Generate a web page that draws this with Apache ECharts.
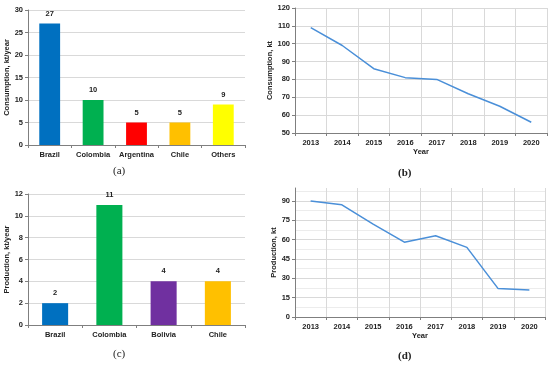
<!DOCTYPE html>
<html>
<head>
<meta charset="utf-8">
<script src="https://cdn.jsdelivr.net/npm/echarts@6/dist/echarts.min.js"></script>
<style>html,body{margin:0;padding:0;background:#fff}#c{width:550px;height:366px}</style>
</head>
<body>
<div id="c"></div>
<script>
var consCountries = ['Brazil', 'Colombia', 'Argentina', 'Chile', 'Others'];
var consValues = [27, 10, 5, 5, 9];
var consColors = ['#0070c0', '#00b050', '#ff0000', '#ffc000', '#ffff00'];
var years = ['2013', '2014', '2015', '2016', '2017', '2018', '2019', '2020'];
var consYear = [109, 99, 86, 81, 80, 72, 65, 56];
var prodCountries = ['Brazil', 'Colombia', 'Bolivia', 'Chile'];
var prodValues = [2, 11, 4, 4];
var prodColors = ['#0070c0', '#00b050', '#7030a0', '#ffc000'];
var prodYear = [90, 87, 72, 58, 63, 54, 22, 21];

var FONT = 'Liberation Sans';
var axisCol = '#7f7f7f';
var gridCol = '#d9d9d9';
var lab = {fontFamily: FONT, fontWeight: 'bold', fontSize: 7.5, color: '#222'};
function yAx(gi, min, max, interval, name, gap, extra) {
  var o = {
    type: 'value', gridIndex: gi, min: min, max: max, interval: interval,
    name: name, nameLocation: 'middle', nameGap: gap,
    nameTextStyle: {fontFamily: FONT, fontWeight: 'bold', fontSize: 7.5, color: '#222'},
    axisLine: {show: true, lineStyle: {color: axisCol, width: 1}},
    axisTick: {show: true, length: 3, lineStyle: {color: axisCol}},
    axisLabel: Object.assign({margin: 5}, lab),
    splitLine: {show: true, lineStyle: {color: gridCol, width: 1}}
  };
  return Object.assign(o, extra || {});
}
function xCat(gi, data, vgrid, name) {
  return {
    type: 'category', gridIndex: gi, data: data,
    name: name || '', nameLocation: 'middle', nameGap: 15,
    nameTextStyle: {fontFamily: FONT, fontWeight: 'bold', fontSize: 7.5, color: '#222'},
    axisLine: {show: true, lineStyle: {color: axisCol, width: 1}},
    axisTick: {show: true, length: 3, lineStyle: {color: axisCol}},
    axisLabel: Object.assign({margin: 6, interval: 0}, lab),
    splitLine: {show: !!vgrid, interval: 0, lineStyle: {color: gridCol, width: 1}}
  };
}
function barData(vals, cols) {
  return vals.map(function (v, i) { return {value: v, itemStyle: {color: cols[i]}}; });
}
var cap = {fontFamily: 'Liberation Serif', fontSize: 11, fill: '#222'};
var chart = echarts.init(document.getElementById('c'), null, {renderer: 'canvas'});
chart.setOption({
  animation: false,
  backgroundColor: '#fff',
  grid: [
    {left: 28, right: 305, top: 10, bottom: 221},
    {left: 295, right: 3, top: 8, bottom: 233},
    {left: 28, right: 305, top: 194, bottom: 41},
    {left: 295, right: 5, top: 188, bottom: 49}
  ],
  xAxis: [
    xCat(0, consCountries, false),
    xCat(1, years, true, 'Year'),
    xCat(2, prodCountries, false),
    xCat(3, years, true, 'Year')
  ],
  yAxis: [
    yAx(0, 0, 30, 5, 'Consumption, kt/year', 15),
    yAx(1, 50, 120, 10, 'Consumption, kt', 17),
    yAx(2, 0, 12, 2, 'Production, kt/year', 15),
    yAx(3, 0, 100, 15, 'Production, kt', 17, {
      axisLabel: Object.assign({margin: 5, showMaxLabel: false}, lab),
      splitLine: {show: true, showMaxLine: false, lineStyle: {color: gridCol, width: 1}},
      minorSplitLine: {show: true, lineStyle: {color: '#ececec', width: 1}},
      minorTick: {show: false, splitNumber: 2}
    })
  ],
  series: [
    {type: 'bar', xAxisIndex: 0, yAxisIndex: 0, data: barData(consValues, consColors), barWidth: '48%',
     label: {show: true, position: 'top', distance: 6, fontFamily: FONT, fontWeight: 'bold', fontSize: 7.5, color: '#222'}},
    {type: 'line', xAxisIndex: 1, yAxisIndex: 1, data: consYear, symbol: 'none',
     lineStyle: {color: '#4a8fd8', width: 1.5}},
    {type: 'bar', xAxisIndex: 2, yAxisIndex: 2, data: barData(prodValues, prodColors), barWidth: '48%',
     label: {show: true, position: 'top', distance: 6, fontFamily: FONT, fontWeight: 'bold', fontSize: 7.5, color: '#222'}},
    {type: 'line', xAxisIndex: 3, yAxisIndex: 3, data: prodYear, symbol: 'none',
     lineStyle: {color: '#4a8fd8', width: 1.5}}
  ],
  graphic: [
    {type: 'text', left: 113, top: 166, style: Object.assign({text: '(a)'}, cap)},
    {type: 'text', left: 398, top: 168, style: Object.assign({text: '(b)', fontWeight: 'bold'}, cap)},
    {type: 'text', left: 113, top: 349, style: Object.assign({text: '(c)'}, cap)},
    {type: 'text', left: 398, top: 351, style: Object.assign({text: '(d)', fontWeight: 'bold'}, cap)}
  ]
});
</script>
</body>
</html>
